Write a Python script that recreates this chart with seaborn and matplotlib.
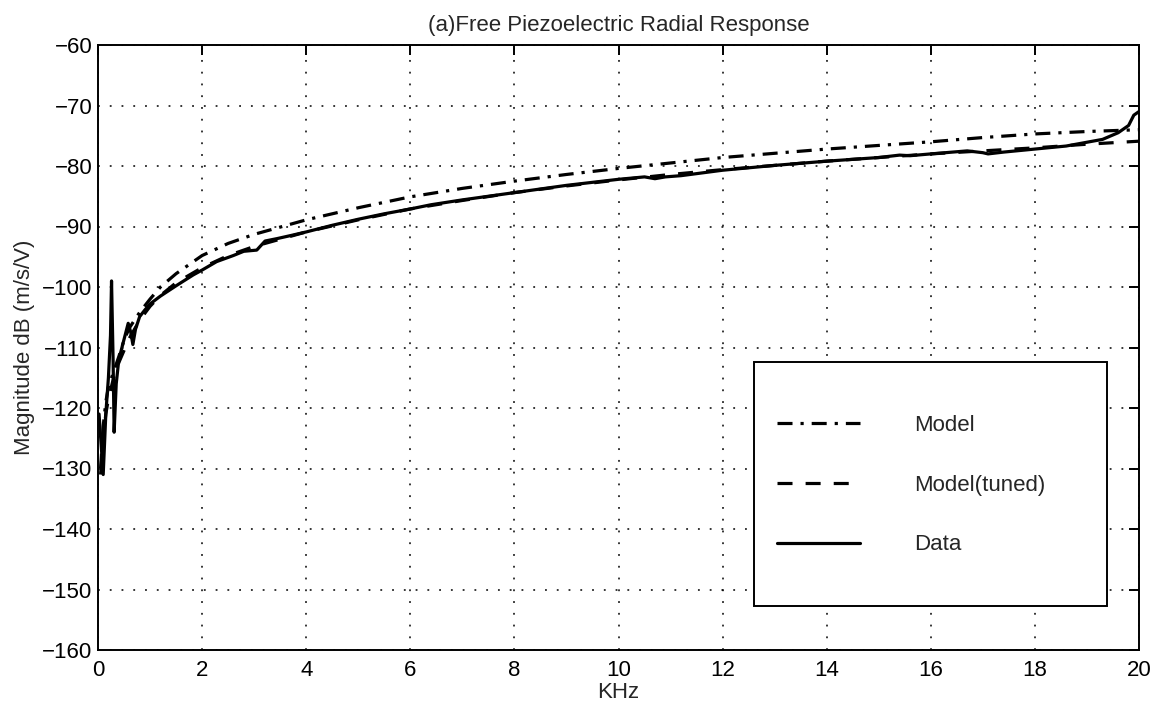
import matplotlib
matplotlib.use("Agg")
import matplotlib.pyplot as plt
import seaborn as sns
from matplotlib.patches import Rectangle
from matplotlib.lines import Line2D

# ---- data ----
model_f = [0.05, 0.1, 0.15, 0.2, 0.3, 0.4, 0.5, 0.6, 0.8, 1.0, 1.2, 1.5, 2.0, 2.5, 3.0,
           4.0, 5.0, 6.0, 7.0, 8.0, 9.0, 10.0, 11.0, 12.0, 13.0, 14.0, 15.0, 16.0,
           17.0, 18.0, 19.0, 20.0]
model_v = [-130, -123, -119, -116.5, -114, -111.5, -108.8, -106.8, -104.2, -102.0, -100.0,
           -97.8, -94.8, -92.8, -91.3, -88.9, -86.9, -85.1, -83.7, -82.5, -81.4, -80.4,
           -79.5, -78.6, -77.9, -77.2, -76.6, -76.0, -75.3, -74.7, -74.3, -74.0]
tuned_v = [-131, -125, -121, -118.5, -115, -112.5, -110.5, -108.5, -105.5, -103.2, -101.4,
           -99.3, -96.8, -94.8, -93.3, -90.9, -88.9, -87.1, -85.7, -84.4, -83.3, -82.3,
           -81.4, -80.6, -79.9, -79.2, -78.6, -78.0, -77.5, -77.0, -76.4, -75.9]

data_f = [0.02, 0.06, 0.10, 0.15, 0.20, 0.24, 0.26, 0.29, 0.31, 0.35, 0.40, 0.46, 0.52,
          0.58, 0.63, 0.67, 0.72, 0.80, 0.90, 1.0, 1.2, 1.5, 1.83, 2.0, 2.28, 2.6, 2.8,
          3.05, 3.21, 3.44, 3.7, 4.0, 4.5, 5.0, 5.5, 6.0, 6.4, 7.0, 8.0, 9.0, 10.0, 10.5,
          10.7, 10.9, 11.2, 12.0, 13.0, 14.0, 15.0, 15.4, 15.6, 16.0, 16.7, 17.0, 17.1,
          17.4, 18.0, 18.6, 19.3, 19.6, 19.8, 19.9, 20.0]
data_v = [-121, -126, -131, -121, -115, -108, -99, -112, -124, -116, -112, -110, -108,
          -106, -107.5, -109.5, -107, -104.9, -103.8, -102.8, -101.5, -99.8, -98.0, -97.2,
          -95.8, -94.8, -94.1, -93.9, -92.4, -92.0, -91.5, -90.9, -89.8, -88.8, -87.9,
          -87.1, -86.4, -85.6, -84.4, -83.2, -82.2, -81.8, -82.1, -81.8, -81.6, -80.7,
          -79.9, -79.2, -78.6, -78.2, -78.3, -78.0, -77.5, -77.8, -78.0, -77.7, -77.2,
          -76.7, -75.6, -74.5, -73.3, -71.6, -71.0]

labels = ["Model", "Model(tuned)", "Data"]
x_ticks = list(range(0, 21, 2))
y_ticks = list(range(-160, -59, 10))

# ---- style ----
sns.set_style("white")
plt.rcParams['font.family'] = ['Liberation Sans', 'DejaVu Sans']

fig = plt.figure(figsize=(11.59, 7.13), dpi=100)
ax = fig.add_axes([98/1159, 1-650/713, (1139-98)/1159, (650-45)/713])

lw = 2.3
ls_model = (0, (4.7, 2.5, 1.0, 2.5))
ls_tuned = (0, (4.7, 4.1))

sns.lineplot(x=model_f, y=model_v, ax=ax, color='k', lw=lw, linestyle=ls_model, sort=False)
sns.lineplot(x=model_f, y=tuned_v, ax=ax, color='k', lw=lw, linestyle=ls_tuned, sort=False)
sns.lineplot(x=data_f, y=data_v, ax=ax, color='k', lw=lw, linestyle='-', sort=False)

ax.set_xlim(0, 20)
ax.set_ylim(-160, -60)
ax.set_xticks(x_ticks)
ax.set_yticks(y_ticks)
ax.set_xticklabels([str(t) for t in x_ticks])
ax.set_yticklabels([("\u2212" + str(-t)) if t < 0 else str(t) for t in y_ticks])

ax.grid(True, color='k', linestyle=(0, (1.2, 6.5)), linewidth=1.1)
for s in ax.spines.values():
    s.set_visible(True)
    s.set_color('k')
    s.set_linewidth(1.4)

fs = 16
ax.tick_params(axis='both', direction='in', length=7, width=1.4, colors='k',
               top=True, right=True, labelsize=fs)
ax.tick_params(axis='x', pad=7)
ax.tick_params(axis='y', pad=4)

ax.set_xlabel("KHz", fontsize=fs, labelpad=1)
ax.set_ylabel("Magnitude dB (m/s/V)", fontsize=fs, labelpad=5)
ax.set_title("(a)Free Piezoelectric Radial Response", fontsize=fs, pad=10)

# legend box (MATLAB style)
x0 = (754-98)/1041
y0 = (650-606)/605
w = (1107-754)/1041
h = (606-362)/605
ax.add_patch(Rectangle((x0, y0), w, h, transform=ax.transAxes, facecolor='white',
                       edgecolor='k', lw=1.4, zorder=5))
handles = [Line2D([], [], color='k', lw=lw, linestyle=ls_model),
           Line2D([], [], color='k', lw=lw, linestyle=ls_tuned),
           Line2D([], [], color='k', lw=lw, linestyle='-')]
leg = ax.legend(handles, labels, loc='center left',
                bbox_to_anchor=((766-98)/1041, (650-485)/605),
                frameon=False, fontsize=fs, borderpad=0, handlelength=3.75,
                handletextpad=2.4, labelspacing=1.75)
leg.set_zorder(6)

fig.savefig("out.png", dpi=100, facecolor='white')
